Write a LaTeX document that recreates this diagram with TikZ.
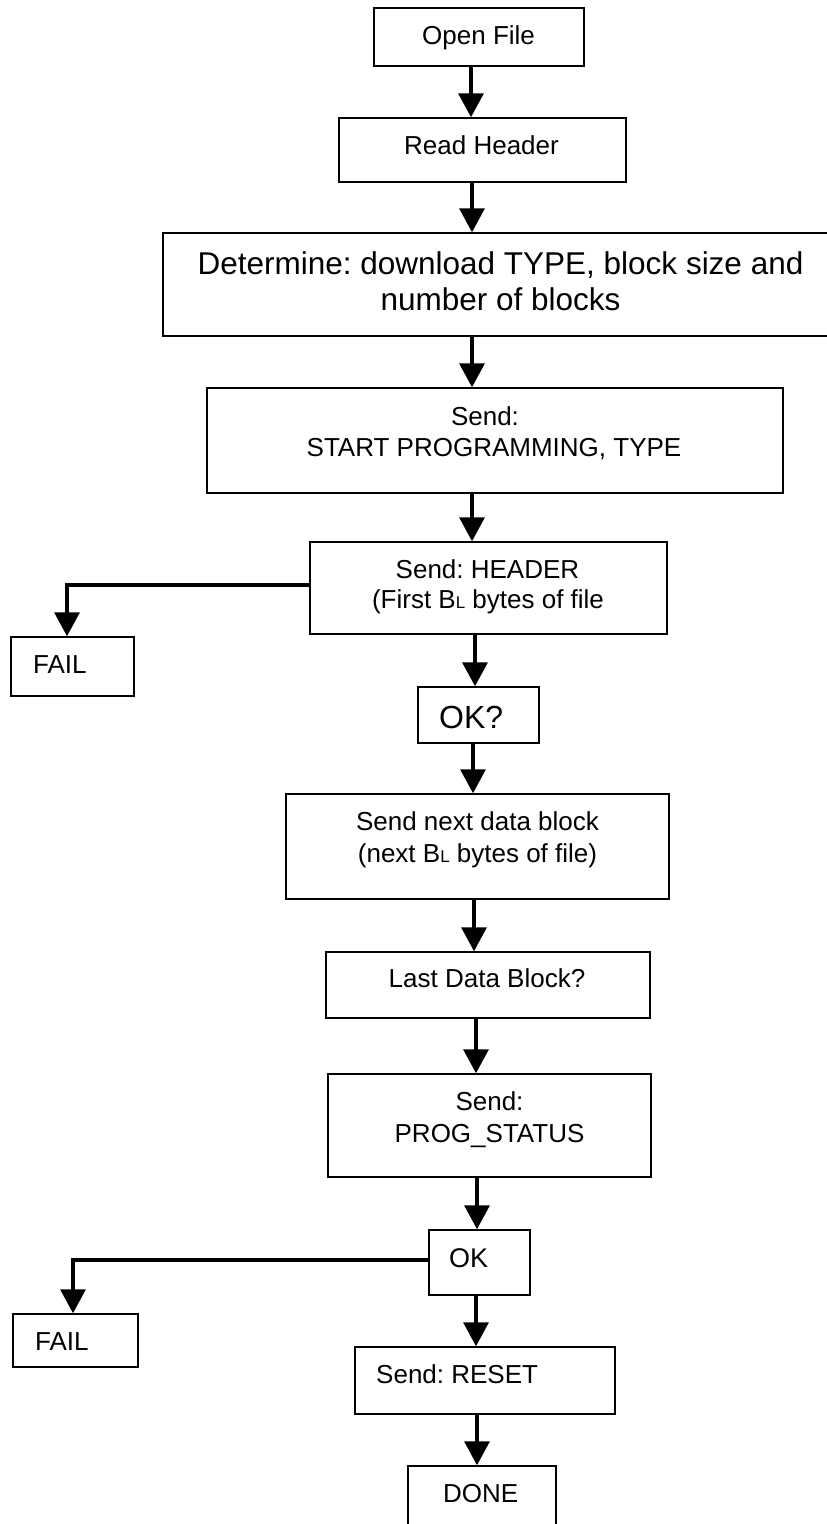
\documentclass[tikz,border=0pt]{standalone}
\usepackage{fontspec}
\setmainfont{Liberation Sans}
\usetikzlibrary{arrows.meta}
\newcommand\BLsub{B{\fontsize{17}{17}\selectfont L}}
\frenchspacing
\begin{document}
\begin{tikzpicture}[x=1pt,y=-1pt,
  box/.style={draw, line width=1.5pt, inner sep=0pt, rectangle},
  arr/.style={line width=3.5pt, -{Triangle[length=24pt,width=25pt]}},
  txt/.style={inner sep=0pt, font=\fontsize{26}{31}\selectfont},
  bigtxt/.style={inner sep=0pt, font=\fontsize{31.5}{36}\selectfont}]
\useasboundingbox (0,0) rectangle (827,1524);
\clip (0,0) rectangle (827,1524);
% boxes
\node[box, minimum width=210pt, minimum height=58pt]  (open)   at (479,37) {};
\node[box, minimum width=287pt, minimum height=64pt]  (read)   at (482.5,150) {};
\node[box, minimum width=669pt, minimum height=103pt] (det)    at (497.5,284.5) {};
\node[box, minimum width=576pt, minimum height=105pt] (start)  at (495,440.5) {};
\node[box, minimum width=357pt, minimum height=92pt]  (header) at (488.5,588) {};
\node[box, minimum width=123pt, minimum height=59pt]  (failA)  at (72.5,666.5) {};
\node[box, minimum width=121pt, minimum height=56pt]  (okq)    at (478.5,715) {};
\node[box, minimum width=383pt, minimum height=105pt] (next)   at (477.5,846.5) {};
\node[box, minimum width=324pt, minimum height=66pt]  (last)   at (488,985) {};
\node[box, minimum width=323pt, minimum height=103pt] (prog)   at (489.5,1125.5) {};
\node[box, minimum width=101pt, minimum height=65pt]  (ok)     at (479.5,1262.5) {};
\node[box, minimum width=125pt, minimum height=53pt]  (failB)  at (75.5,1340.5) {};
\node[box, minimum width=260pt, minimum height=67pt]  (reset)  at (485,1380.5) {};
\node[box, minimum width=148pt, minimum height=64pt]  (done)   at (482,1498) {};
% texts
\node[txt, anchor=base west] (t1) at (422,44) {Open File};
\node[txt, anchor=base west] (t2) at (404,154) {Read Header};
\node[bigtxt, anchor=base] (t3a) at (500.5,274) {Determine: download TYPE, block size and};
\node[bigtxt, anchor=base] (t3b) at (500.5,310) {number of blocks};
\node[txt, anchor=base] (t4a) at (485,425) {Send:};
\node[txt, anchor=base] (t4b) at (494,456) {START PROGRAMMING, TYPE};
\node[txt, anchor=base] (t5a) at (487.5,578) {Send: HEADER};
\node[txt, anchor=base] (t5b) at (488,608) {(First \BLsub{} bytes of file};
\node[txt, anchor=base west] (t6) at (33,673) {FAIL};
\node[inner sep=0pt, font=\fontsize{32}{36}\selectfont, anchor=base west] (t7) at (439,728) {OK?};
\node[txt, anchor=base] (t8a) at (477.5,830) {Send next data block};
\node[txt, anchor=base] (t8b) at (477.5,862) {(next \BLsub{} bytes of file)};
\node[txt, anchor=base] (t9) at (487,987) {Last Data Block?};
\node[txt, anchor=base] (t10a) at (489.5,1110) {Send:};
\node[txt, anchor=base] (t10b) at (489.5,1142) {PROG\_STATUS};
\node[inner sep=0pt, font=\fontsize{27}{31}\selectfont, anchor=base west] (t11) at (449,1267) {OK};
\node[txt, anchor=base west] (t12) at (35,1350) {FAIL};
\node[txt, anchor=base west] (t13) at (376,1383) {Send: RESET};
\node[txt, anchor=base west] (t14) at (443,1502) {DONE};
% arrow x positions
\coordinate (xa) at (471,0);
\coordinate (xb) at (472,0);
\coordinate (xc) at (475,0);
\coordinate (xd) at (473,0);
\coordinate (xe) at (474,0);
\coordinate (xf) at (476,0);
\coordinate (xg) at (477,0);
\coordinate (fa) at (67,0);
\coordinate (fb) at (73,0);
% connectors
\draw[arr] (open.south -| xa) -- (read.north -| xa);
\draw[arr] (read.south -| xb) -- (det.north -| xb);
\draw[arr] (det.south -| xb) -- (start.north -| xb);
\draw[arr] (start.south -| xb) -- (header.north -| xb);
\draw[arr] (header.south -| xc) -- (okq.north -| xc);
\draw[arr] ([yshift=3pt]header.west) -| (failA.north -| fa);
\draw[arr] (okq.south -| xd) -- (next.north -| xd);
\draw[arr] (next.south -| xe) -- (last.north -| xe);
\draw[arr] (last.south -| xf) -- (prog.north -| xf);
\draw[arr] (prog.south -| xg) -- (ok.north -| xg);
\draw[arr] ([yshift=2.5pt]ok.west) -| (failB.north -| fb);
\draw[arr] (ok.south -| xf) -- (reset.north -| xf);
\draw[arr] (reset.south -| xg) -- (done.north -| xg);
\end{tikzpicture}
\end{document}
